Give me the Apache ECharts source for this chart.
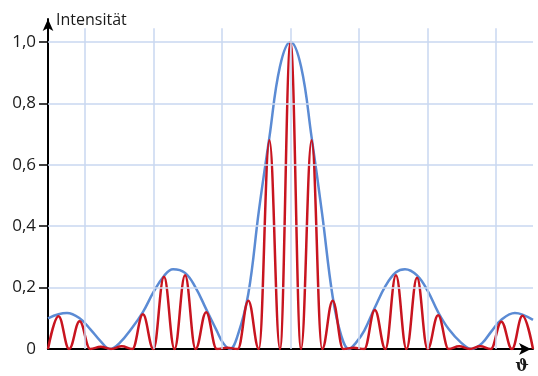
<!DOCTYPE html>
<html>
<head>
<meta charset="utf-8">
<script src="https://cdn.jsdelivr.net/npm/echarts@6/dist/echarts.min.js"></script>
<style>
  html, body { margin: 0; padding: 0; background: #fff; }
  #chart { width: 538px; height: 376px; }
</style>
</head>
<body>
<div id="chart"></div>
<script>
// Beugung am Gitter: Einhüllende (Einzelspalt) und Gitterintensität
// x in Einheiten des Hauptmaxima-Abstands, Werte abgelesen
const redX = [-11.5, -11, -10.5, -10, -9.5, -9, -8.5, -8, -7.5, -7, -6.5, -6, -5.5, -5, -4.5, -4, -3.5, -3, -2.5, -2, -1.5, -1, -0.5, 0,
  0.5, 1, 1.5, 2, 2.5, 3, 3.5, 4, 4.5, 5, 5.5, 6, 6.5, 7, 7.5, 8, 8.5, 9, 9.5, 10, 10.5, 11, 11.5]
const redY = [0, 0.107, 0, 0.09, 0, 0.007, 0, 0.009, 0, 0.113, 0, 0.235, 0, 0.24, 0, 0.12, 0, 0.004, 0, 0.157, 0, 0.68, 0, 1.0,
  0, 0.68, 0, 0.157, 0, 0.004, 0, 0.127, 0, 0.24, 0, 0.232, 0, 0.11, 0, 0.009, 0, 0.009, 0, 0.089, 0, 0.108, 0]

const blueX = [-11.5, -11, -10.6, -10, -9.5, -9, -8.55, -8.1, -7.5, -7, -6.5, -6, -5.57, -5, -4.5, -4, -3.5, -3.2, -2.87, -2.5, -2, -1.5, -1, -0.5, 0,
  0.5, 1, 1.5, 2, 2.4, 2.77, 3.1, 3.5, 4, 4.5, 5, 5.43, 6, 6.5, 7, 7.5, 8.1, 8.6, 9.1, 9.5, 10, 10.64, 11, 11.5]
const blueY = [0.1, 0.113, 0.117, 0.1, 0.065, 0.025, 0, 0.02, 0.07, 0.12, 0.185, 0.238, 0.26, 0.248, 0.2, 0.13, 0.06, 0.02, 0, 0.045, 0.18, 0.45, 0.69, 0.92, 1.0,
  0.92, 0.69, 0.44, 0.17, 0.045, 0, 0.02, 0.06, 0.135, 0.205, 0.25, 0.26, 0.24, 0.19, 0.12, 0.065, 0.02, 0, 0.02, 0.055, 0.095, 0.117, 0.112, 0.095]

const yTicks = [0, 0.2, 0.4, 0.6, 0.8, 1.0]
const gridX = [-9.75, -6.5, -3.25, 0, 3.25, 6.5, 9.75]
const gridY = [0.2, 0.4, 0.6, 0.8, 1.0]
const gridTop = 1.045

const font = 'Open Sans'
const chart = echarts.init(document.getElementById('chart'))

const toPairs = (xs, ys) => xs.map((x, i) => [x, ys[i]])

let option = {
  animation: false,
  backgroundColor: '#fff',
  grid: { left: 48, right: 5, top: 19, bottom: 27, outerBoundsMode: 'none' },
  xAxis: {
    type: 'value',
    min: -11.5,
    max: 11.5,
    name: 'ϑ',
    nameLocation: 'end',
    nameGap: -11,
    nameTextStyle: { fontFamily: 'DejaVu Serif', fontSize: 16, fontWeight: 'bold', color: '#1a1a1a', align: 'center', verticalAlign: 'top', padding: [10, 0, 0, 0] },
    axisLine: { show: true, onZero: false, symbol: ['none', 'arrow'], symbolSize: [9, 12], symbolOffset: [0, -2], lineStyle: { color: '#000', width: 2 } },
    axisTick: { show: false },
    axisLabel: { show: false },
    splitLine: { show: false }
  },
  yAxis: {
    type: 'value',
    min: 0,
    max: 1.075,
    name: 'Intensität',
    nameLocation: 'end',
    nameGap: -1,
    nameTextStyle: { fontFamily: font, fontSize: 16, color: '#1a1a1a', align: 'left', verticalAlign: 'middle', padding: [0, 0, 0, 8] },
    axisLine: { show: true, onZero: false, symbol: ['none', 'arrow'], symbolSize: [8, 12], symbolOffset: [0, 0], lineStyle: { color: '#000', width: 2 } },
    axisTick: { show: true, inside: false, length: 9, customValues: gridY, lineStyle: { color: '#000', width: 1.5 } },
    axisLabel: {
      customValues: yTicks,
      margin: 12,
      fontFamily: font,
      fontSize: 17,
      color: '#1a1a1a',
      formatter: (v) => (v === 0 ? '0' : v.toFixed(1).replace('.', ','))
    },
    splitLine: { show: false }
  },
  series: [
    {
      // Gitternetz
      type: 'line',
      data: [],
      z: 1,
      silent: true,
      markLine: {
        silent: true,
        symbol: 'none',
        label: { show: false },
        lineStyle: { color: '#c9d7f1', width: 1.5, type: 'solid' },
        data: [
          ...gridX.map((x) => [{ coord: [x, 0] }, { coord: [x, gridTop] }]),
          ...gridY.map((y) => ({ yAxis: y }))
        ]
      }
    },
    {
      name: 'Einhüllende',
      type: 'line',
      z: 3,
      data: toPairs(blueX, blueY),
      smooth: 0.4,
      showSymbol: false,
      clip: true,
      lineStyle: { color: '#5b8bd4', width: 2.5 }
    },
    {
      name: 'Gitter',
      type: 'line',
      z: 4,
      data: toPairs(redX, redY),
      smooth: 0.4,
      smoothMonotone: 'x',
      showSymbol: false,
      clip: true,
      lineStyle: { color: '#c8141f', width: 2.5 }
    }
  ]
}
chart.setOption(option)
</script>
</body>
</html>
